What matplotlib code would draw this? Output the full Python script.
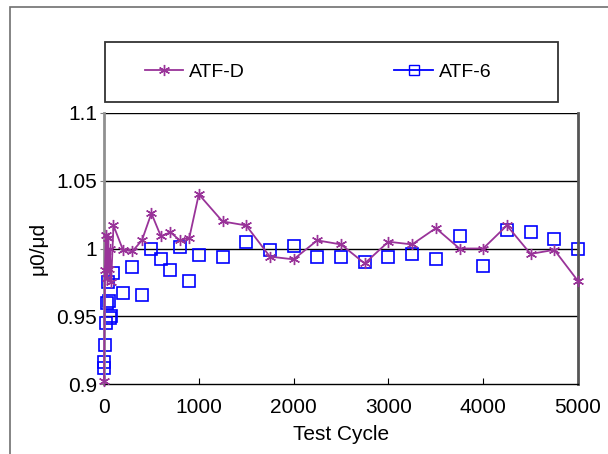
import matplotlib
matplotlib.use("Agg")
import matplotlib.pyplot as plt
from matplotlib.lines import Line2D
from matplotlib.patches import Rectangle

plt.rcParams["font.family"] = ["Liberation Sans", "DejaVu Sans"]

# ATF-D (purple, asterisk markers, joined)
cycles_d = [0, 10, 20, 30, 40, 50, 60, 75, 100, 200, 300, 400, 500, 600, 700, 800,
            900, 1000, 1250, 1500, 1750, 2000, 2250, 2500, 2750, 3000, 3250, 3500,
            3750, 4000, 4250, 4500, 4750, 5000]
mu_d = [0.902, 0.984, 1.010, 0.978, 1.008, 0.985, 1.000, 0.975, 1.017, 0.999, 0.998,
        1.006, 1.026, 1.009, 1.012, 1.006, 1.008, 1.040, 1.020, 1.017, 0.994, 0.992,
        1.006, 1.003, 0.989, 1.005, 1.003, 1.015, 1.000, 1.000, 1.017, 0.996, 0.999,
        0.976]

# ATF-6 (blue open squares)
cycles_6 = [0, 5, 10, 20, 30, 40, 50, 60, 75, 100, 200, 300, 400, 500, 600, 700, 800,
            900, 1000, 1250, 1500, 1750, 2000, 2250, 2500, 2750, 3000, 3250, 3500,
            3750, 4000, 4250, 4500, 4750, 5000]
mu_6 = [0.912, 0.916, 0.929, 0.945, 0.960, 0.975, 0.961, 0.949, 0.950, 0.982, 0.967,
        0.986, 0.966, 1.000, 0.992, 0.984, 1.001, 0.976, 0.995, 0.994, 1.005, 0.999,
        1.002, 0.994, 0.994, 0.990, 0.994, 0.996, 0.992, 1.009, 0.987, 1.014, 1.012,
        1.007, 1.000]

x_ticks = [0, 1000, 2000, 3000, 4000, 5000]
y_ticks = [0.9, 0.95, 1.0, 1.05, 1.1]
y_labels = ["0.9", "0.95", "1", "1.05", "1.1"]

PURPLE = "#993399"
BLUE = "#0000FF"
W, H = 608, 454

fig = plt.figure(figsize=(W / 100, H / 100), dpi=100)
fig.patch.set_facecolor("white")

# chart-area border (cropped at right / bottom like the source)
fig.patches.append(Rectangle((10 / W, -0.1), 1.2, 1.1 - 7 / H, transform=fig.transFigure,
                             fill=False, edgecolor="#707070", linewidth=1.2))

ax = fig.add_axes([104 / W, 1 - 384 / H, (578 - 104) / W, (384 - 113) / H])

for y in y_ticks[1:]:
    ax.axhline(y, color="black", linewidth=1.0, zorder=1)

asterisk = (6, 2, 0)
ax.plot(cycles_d, mu_d, color=PURPLE, linewidth=1.3, marker=asterisk, markersize=8,
        markeredgewidth=1.0, zorder=3, clip_on=False)
ax.plot(cycles_6, mu_6, linestyle="none", marker="s", markersize=8, markerfacecolor="none",
        markeredgecolor=BLUE, markeredgewidth=1.2, zorder=2, clip_on=False)

ax.set_xlim(0, 5000)
ax.set_ylim(0.9, 1.1)
ax.set_xticks(x_ticks)
ax.set_yticks(y_ticks)
ax.set_yticklabels(y_labels)
ax.tick_params(axis="x", direction="in", length=4, pad=10, labelsize=15, color="black")
ax.tick_params(axis="y", direction="out", length=3, pad=2, labelsize=15, color="#808080")

ax.spines["top"].set_visible(False)
ax.spines["left"].set_color("#909090")
ax.spines["left"].set_linewidth(2)
ax.spines["right"].set_color("#555555")
ax.spines["right"].set_linewidth(2)
ax.spines["bottom"].set_color("black")
ax.spines["bottom"].set_linewidth(1.0)

ax.set_xlabel("Test Cycle", fontsize=15, labelpad=6)
ax.set_ylabel("μ0/μd", fontsize=15, labelpad=6)

handles = [
    Line2D([0], [0], color=PURPLE, linewidth=1.3, marker=asterisk, markersize=8,
           markeredgewidth=1.0, label="ATF-D"),
    Line2D([0], [0], color=BLUE, linewidth=1.3, marker="s", markersize=7,
           markerfacecolor="none", markeredgecolor=BLUE, label="ATF-6"),
]
leg = fig.legend(handles=handles, loc="center", ncol=2, mode="expand",
                 bbox_to_anchor=(127 / W, 1 - 102 / H, 382 / W, 60 / H),
                 frameon=False, fontsize=14, handlelength=2.0, handletextpad=0.3)
fig.patches.append(Rectangle((105 / W, 1 - 102 / H), 453 / W, 60 / H, transform=fig.transFigure,
                             fill=False, edgecolor="#333333", linewidth=1.3))

fig.savefig("out.png", dpi=100)
